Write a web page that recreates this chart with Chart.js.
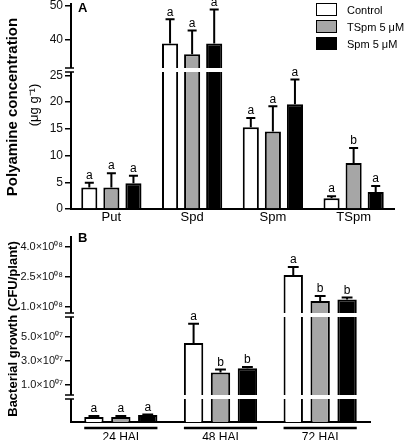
<!DOCTYPE html>
<html>
<head>
<meta charset="utf-8">
<script src="https://cdn.jsdelivr.net/npm/chart.js@4.4.1/dist/chart.umd.min.js"></script>
<style>
  body { margin: 0; background: #fff; width: 404px; height: 440px; overflow: hidden; position: relative; font-family: "Liberation Sans", Arial, sans-serif; }
  canvas { position: absolute; left: 0; }
  #chartA { top: 0; }
  #chartB { top: 220px; }
  .legend-item { position: absolute; left: 316px; height: 13px; display: flex; align-items: center; font-size: 11px; color: #000; white-space: nowrap; }
  .legend-box { width: 21px; height: 13px; box-sizing: border-box; border: 1.5px solid #000; margin-right: 10px; }
</style>
</head>
<body>
<canvas id="chartA" width="404" height="230"></canvas>
<canvas id="chartB" width="404" height="230"></canvas>
<div id="legend"></div>
<script>
// series shared by both panels
const seriesNames = ['Control', 'TSpm 5 μM', 'Spm 5 μM'];
const fills = ['#ffffff', '#a6a6a6', '#000000'];

// panel A - polyamine concentration
const groupsA = ['Put', 'Spd', 'Spm', 'TSpm'];
const controlA = [4.0, 38.8, 15.3, 2.0];
const tspmA = [4.0, 35.6, 14.5, 8.6];
const spmA = [4.8, 38.8, 19.6, 3.2];
const controlErrA = [0.9, 7.1, 1.7, 0.4];
const tspmErrA = [2.7, 7.0, 4.7, 2.8];
const spmErrA = [1.4, 10.0, 4.6, 1.1];
const controlLetA = ['a', 'a', 'a', 'a'];
const tspmLetA = ['a', 'a', 'a', 'b'];
const spmLetA = ['a', 'a', 'a', 'a'];
const ticksALow = [0, 5, 10, 15, 20, 25];
const ticksAHigh = [40, 50];

// panel B - bacterial growth
const groupsB = ['24 HAI', '48 HAI', '72 HAI'];
const controlB = [1.0e6, 4.5e7, 2.6e8];
const tspmB = [1.0e6, 2.05e7, 1.3e8];
const spmB = [1.4e6, 2.4e7, 1.38e8];
const controlErrB = [0.2e6, 1.6e7, 0.4e8];
const tspmErrB = [0.2e6, 0.25e7, 0.25e8];
const spmErrB = [0.1e6, 0.1e7, 0.1e8];
const controlLetB = ['a', 'a', 'a'];
const tspmLetB = ['a', 'b', 'b'];
const spmLetB = ['a', 'b', 'b'];
const ticksBTop = [1e8, 2.5e8, 4e8];
const ticksBMid = [1e7, 3e7, 5e7];
const ticksBBot = [];

const FONT = '"Liberation Sans", Arial, sans-serif';
const sup = '⁰¹²³⁴⁵⁶⁷⁸⁹';

function sci(v) {
  const e = Math.floor(Math.log10(v) + 1e-9);
  const m = (v / Math.pow(10, e)).toFixed(1);
  return m + '×10' + String(e).padStart(2, '0').split('').map(d => sup[d]).join('');
}

// one dataset per series per axis segment, so each bar shows in every segment (clipped)
function buildDatasets(values, errors, letters, axisIds, barPct, catPct) {
  const sets = [];
  values.forEach((vals, k) => {
    axisIds.forEach((id, n) => {
      sets.push({
        label: seriesNames[k], data: vals, yAxisID: id, stack: 's' + k,
        backgroundColor: fills[k], borderColor: '#000', borderWidth: 2,
        barPercentage: barPct, categoryPercentage: catPct, clip: 0,
        errors: n === 0 ? errors[k] : null, letters: n === 0 ? letters[k] : null
      });
    });
  });
  return sets;
}

function yAxis(min, max, ticks, weight, size, fmt) {
  return {
    type: 'linear', axis: 'y', position: 'left', stack: 'v', stackWeight: weight, stacked: false,
    min: min, max: max,
    border: { color: '#000', width: 2 },
    grid: { display: true, drawOnChartArea: false, drawTicks: true, tickLength: 6, color: '#000', lineWidth: 1.5 },
    ticks: { color: '#111', font: { family: FONT, size: size }, padding: 2, autoSkip: false, callback: fmt || (v => v) },
    afterBuildTicks: s => { s.ticks = ticks.map(v => ({ value: v })); },
    afterFit: s => { s.width = 71; s.paddingTop = 0; s.paddingBottom = 0; }
  };
}

function xAxis(labelSize, pad, height) {
  return {
    type: 'category', offset: true,
    border: { color: '#000', width: 2 },
    grid: { display: false, drawTicks: false },
    ticks: { color: '#000', font: { family: FONT, size: labelSize }, padding: pad, autoSkip: false, maxRotation: 0 },
    afterFit: s => { s.height = height; s.paddingLeft = 0; s.paddingRight = 0; }
  };
}

const annotate = {
  id: 'annotate',
  afterDatasetsDraw(chart, args, o) {
    const ctx = chart.ctx;
    const a = chart.chartArea;
    const segs = o.segments.map(id => chart.scales[id]); // bottom to top
    const px = v => {
      const s = segs.find(s => v >= s.min && v <= s.max) || segs[segs.length - 1];
      return s.getPixelForValue(v);
    };
    ctx.save();
    // axis breaks
    for (let k = 0; k < segs.length - 1; k++) {
      const y = segs[k].top;
      ctx.fillStyle = '#fff';
      ctx.fillRect(a.left - 8, y - 2, a.right - a.left + 8, 4);
      ctx.strokeStyle = '#000';
      ctx.lineWidth = 1.5;
      ctx.beginPath();
      ctx.moveTo(a.left - 6, y - 2); ctx.lineTo(a.left + 3, y - 2);
      ctx.moveTo(a.left - 6, y + 2); ctx.lineTo(a.left + 3, y + 2);
      ctx.stroke();
    }
    // error bars and letters
    const series = chart.data.datasets.map((d, i) => [d, i]).filter(p => p[0].errors);
    ctx.strokeStyle = '#000';
    ctx.fillStyle = '#000';
    ctx.lineWidth = 2;
    ctx.font = '12px ' + FONT;
    ctx.textAlign = 'center';
    ctx.textBaseline = 'bottom';
    series.forEach(([d, i]) => {
      chart.getDatasetMeta(i).data.forEach((bar, j) => {
        const yv = px(d.data[j]);
        const ye = px(d.data[j] + d.errors[j]);
        const cw = bar.width * 0.28;
        ctx.beginPath();
        ctx.moveTo(bar.x, yv); ctx.lineTo(bar.x, ye);
        ctx.moveTo(bar.x - cw, ye); ctx.lineTo(bar.x + cw, ye);
        ctx.stroke();
        ctx.fillText(d.letters[j], bar.x, ye - 1);
      });
    });
    // group underlines
    if (o.underline) {
      const first = chart.getDatasetMeta(series[0][1]).data;
      const last = chart.getDatasetMeta(series[series.length - 1][1]).data;
      ctx.lineWidth = 2.5;
      first.forEach((b, j) => {
        const y = a.bottom + 6;
        ctx.beginPath();
        ctx.moveTo(b.x - b.width / 2, y);
        ctx.lineTo(last[j].x + last[j].width / 2, y);
        ctx.stroke();
      });
    }
    // rotated y titles
    ctx.textBaseline = 'middle';
    o.titles.forEach(t => {
      ctx.save();
      ctx.translate(t.x, t.y);
      ctx.rotate(-Math.PI / 2);
      ctx.font = t.font;
      ctx.fillText(t.text, 0, 0);
      ctx.restore();
    });
    // panel letter
    ctx.font = 'bold 13px ' + FONT;
    ctx.textAlign = 'left';
    ctx.textBaseline = 'top';
    ctx.fillText(o.letter, a.left + 7, o.letterY);
    ctx.restore();
  }
};

// stacked y scales are laid out bottom-up in the order they are declared
new Chart(document.getElementById('chartA'), {
  type: 'bar',
  data: {
    labels: groupsA,
    datasets: buildDatasets([controlA, tspmA, spmA], [controlErrA, tspmErrA, spmErrA],
      [controlLetA, tspmLetA, spmLetA], ['yLow', 'yHigh'], 0.73, 0.82)
  },
  options: {
    responsive: false, animation: false, devicePixelRatio: 1,
    layout: { padding: { top: 4, right: 10, left: 0, bottom: 0 } },
    scales: {
      x: xAxis(13, 1, 21),
      yLow: yAxis(0, 26, ticksALow, 139, 12),
      yHigh: yAxis(31, 50.4, ticksAHigh, 66, 12)
    },
    plugins: {
      legend: { display: false },
      tooltip: { enabled: false },
      annotate: {
        segments: ['yLow', 'yHigh'],
        letter: 'A', letterY: 2,
        titles: [
          { text: 'Polyamine concentration', x: 13, y: 107, font: 'bold 15px ' + FONT },
          { text: '(μg g⁻¹)', x: 34, y: 105, font: '13px ' + FONT }
        ]
      }
    }
  },
  plugins: [annotate]
});

new Chart(document.getElementById('chartB'), {
  type: 'bar',
  data: {
    labels: groupsB,
    datasets: buildDatasets([controlB, tspmB, spmB], [controlErrB, tspmErrB, spmErrB],
      [controlLetB, tspmLetB, spmLetB], ['yBot', 'yMid', 'yTop'], 0.72, 0.81)
  },
  options: {
    responsive: false, animation: false, devicePixelRatio: 1,
    layout: { padding: { top: 17, right: 34, left: 0, bottom: 0 } },
    scales: {
      x: xAxis(12, 8, 28),
      yBot: yAxis(0, 5e6, ticksBBot, 25, 11, sci),
      yMid: yAxis(0, 6.83e7, ticksBMid, 82, 11, sci),
      yTop: yAxis(0.6e8, 4.5e8, ticksBTop, 78, 11, sci)
    },
    plugins: {
      legend: { display: false },
      tooltip: { enabled: false },
      annotate: {
        segments: ['yBot', 'yMid', 'yTop'],
        underline: true,
        letter: 'B', letterY: 12,
        titles: [
          { text: 'Bacterial growth (CFU/plant)', x: 13, y: 109, font: 'bold 13px ' + FONT }
        ]
      }
    }
  },
  plugins: [annotate]
});

// legend
const legend = document.getElementById('legend');
seriesNames.forEach((name, k) => {
  const item = document.createElement('div');
  item.className = 'legend-item';
  item.style.top = (3 + k * 17) + 'px';
  item.innerHTML = `<div class="legend-box" style="background:${fills[k]}"></div><span>${name}</span>`;
  legend.appendChild(item);
});
</script>
</body>
</html>
